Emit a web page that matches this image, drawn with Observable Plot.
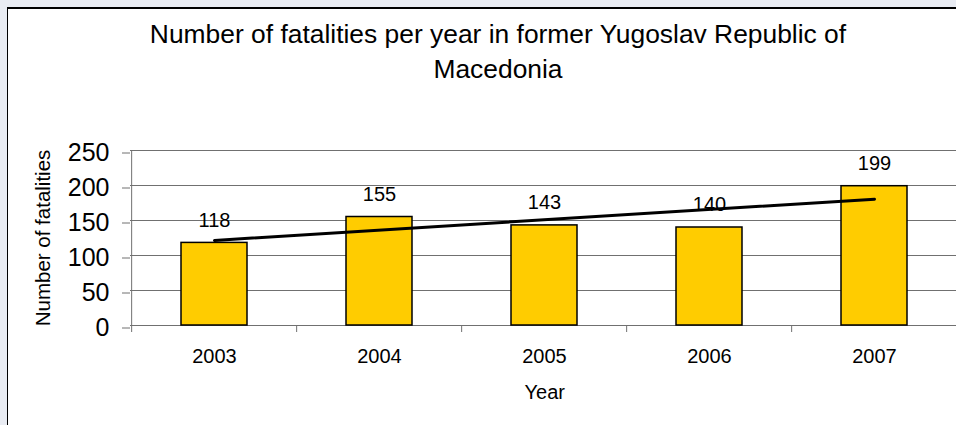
<!DOCTYPE html>
<html><head><meta charset="utf-8">
<script src="https://cdn.jsdelivr.net/npm/d3@7"></script>
<script src="https://cdn.jsdelivr.net/npm/@observablehq/plot@0.6"></script>
<style>
html,body{margin:0;padding:0;width:956px;height:425px;overflow:hidden;background:#e9ecf3;font-family:"Liberation Sans",Arial,sans-serif;}
#frame{position:absolute;left:7px;top:7px;width:1000px;height:500px;background:#fff;border-left:1.5px solid #000;border-top:2px solid #000;}
#title{position:absolute;left:0;top:17px;width:996px;text-align:center;font-size:26.4px;line-height:35px;color:#000;white-space:nowrap;}
#chart{position:absolute;left:0;top:0;}
</style></head><body>
<div id="frame"></div>
<div id="title"></div>
<div id="chart"></div>
<script>
const titleLines = ["Number of fatalities per year in former Yugoslav Republic of", "Macedonia"];
const years = [2003, 2004, 2005, 2006, 2007];
const fatalities = [118, 155, 143, 140, 199];
const yTicks = [0, 50, 100, 150, 200, 250];
const xLabel = "Year";
const yLabel = "Number of fatalities";

const data = years.map((year, i) => ({year, value: fatalities[i]}));

document.getElementById("title").innerHTML = titleLines.join("<br>");

const W = 1000, H = 425, mL = 130, mR = 41.5, mT = 150, mB = 100;
const step = (W - mL - mR) / years.length;
const grey = "#707070";

const chart = Plot.plot({
  width: W, height: H,
  marginLeft: mL, marginRight: mR, marginTop: mT, marginBottom: mB,
  style: {background: "transparent", fontFamily: "'Liberation Sans', Arial, sans-serif", color: "#000", overflow: "visible", maxWidth: "none"},
  x: {type: "band", domain: years, paddingInner: 0.6, paddingOuter: 0.3},
  y: {domain: [0, 250]},
  marks: [
    Plot.ruleY(yTicks, {stroke: grey, strokeWidth: 1}),
    Plot.ruleX([years[0]], {x: d => d, y1: -10, y2: 250, dx: -step / 2, stroke: grey, strokeWidth: 1}),
    Plot.ruleX(years.slice(1), {x: d => d, y1: -10, y2: 0, dx: -step / 2, stroke: grey, strokeWidth: 1}),
    Plot.axisY(yTicks, {tickSize: 8, tickPadding: 13, fontSize: 25, stroke: grey, dy: 2.5, label: null}),
    Plot.axisX({tickSize: 0, tickPadding: 23.5, fontSize: 20, label: null, tickFormat: d => String(d)}),
    Plot.text([yLabel], {frameAnchor: "left", textAnchor: "middle", lineAnchor: "middle", rotate: -90, dx: -87, fontSize: 20.5, fill: "#000"}),
    Plot.text([xLabel], {frameAnchor: "bottom", textAnchor: "middle", lineAnchor: "middle", dy: 67, fontSize: 20, fill: "#000"}),
    Plot.barY(data, {x: "year", y: "value", fill: "#FFCC00", stroke: "#000", strokeWidth: 1.5}),
    Plot.linearRegressionY(data, {x: "year", y: "value", ci: 0, stroke: "#000", strokeWidth: 3}),
    Plot.text(data, {x: "year", y: "value", text: d => String(d.value), dy: -22.5, fontSize: 20, fill: "#000"})
  ]
});
document.getElementById("chart").appendChild(chart);
</script>
</body></html>
